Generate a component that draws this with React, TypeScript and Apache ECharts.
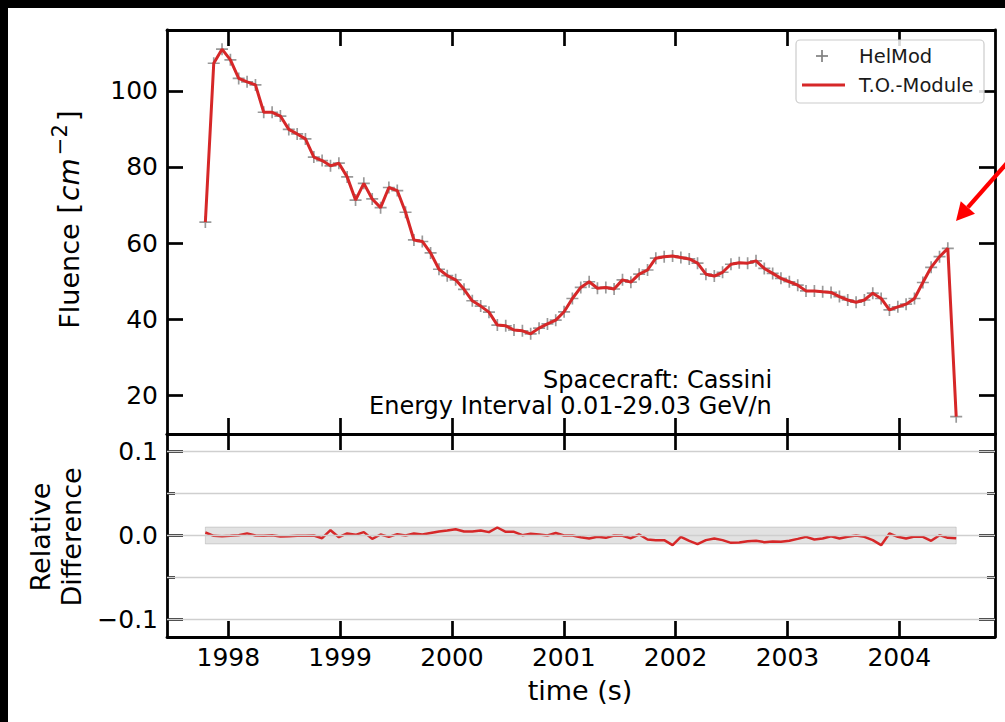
import React, { useEffect, useRef } from 'react';
import * as echarts from 'echarts';

// Sampling times (decimal years), one per solar rotation
const times = [
  1997.795, 1997.87, 1997.944, 1998.019, 1998.093, 1998.168, 1998.243, 1998.317, 1998.392, 1998.466,
  1998.541, 1998.616, 1998.69, 1998.765, 1998.839, 1998.914, 1998.989, 1999.063, 1999.138, 1999.212,
  1999.287, 1999.362, 1999.436, 1999.511, 1999.585, 1999.66, 1999.735, 1999.809, 1999.884, 1999.958,
  2000.033, 2000.108, 2000.182, 2000.257, 2000.331, 2000.406, 2000.481, 2000.555, 2000.63, 2000.704,
  2000.779, 2000.854, 2000.928, 2001.003, 2001.077, 2001.152, 2001.227, 2001.301, 2001.376, 2001.45,
  2001.525, 2001.6, 2001.674, 2001.749, 2001.823, 2001.898, 2001.973, 2002.047, 2002.122, 2002.196,
  2002.271, 2002.346, 2002.42, 2002.495, 2002.569, 2002.644, 2002.719, 2002.793, 2002.868, 2002.942,
  2003.017, 2003.092, 2003.166, 2003.241, 2003.315, 2003.39, 2003.465, 2003.539, 2003.614, 2003.688,
  2003.763, 2003.838, 2003.912, 2003.987, 2004.061, 2004.136, 2004.211, 2004.285, 2004.36, 2004.434,
  2004.509,
];

// Fluence [cm^-2] from HelMod
const helmodFluence = [
  65.5, 107.3, 111.0, 108.2, 103.3, 102.4, 101.6, 94.4, 94.4, 93.4,
  89.9, 88.7, 87.4, 82.6, 81.7, 80.3, 81.0, 77.4, 71.3, 75.7,
  71.6, 69.3, 74.6, 73.8, 68.1, 60.8, 60.4, 57.4, 53.1, 51.4,
  50.3, 47.8, 44.8, 43.4, 41.8, 38.4, 38.2, 37.1, 36.9, 36.1,
  37.6, 38.7, 39.7, 41.9, 45.4, 48.3, 49.8, 48.1, 48.3, 47.9,
  50.3, 49.7, 51.8, 52.9, 56.0, 56.4, 56.6, 56.2, 55.8, 54.7,
  51.8, 51.3, 52.3, 54.4, 54.8, 54.7, 55.3, 53.3, 52.0, 50.7,
  49.8, 48.9, 47.4, 47.4, 47.2, 47.0, 45.9, 45.0, 44.4, 45.0,
  46.8, 45.4, 42.4, 43.2, 43.9, 45.4, 49.6, 53.6, 56.4, 58.6,
  14.3,
];

// Fluence [cm^-2] from the T.O.-Module
const moduleFluence = [
  65.5, 107.3, 111.0, 108.2, 103.3, 102.4, 101.6, 94.4, 94.4, 93.4,
  89.9, 88.7, 87.4, 82.6, 81.7, 80.3, 81.0, 77.4, 71.3, 75.7,
  71.6, 69.3, 74.6, 73.8, 68.1, 60.8, 60.4, 57.4, 53.1, 51.4,
  50.3, 47.8, 44.8, 43.4, 41.8, 38.4, 38.2, 37.1, 36.9, 36.1,
  37.6, 38.7, 39.7, 41.9, 45.4, 48.3, 49.8, 48.1, 48.3, 47.9,
  50.3, 49.7, 51.8, 52.9, 56.0, 56.4, 56.6, 56.2, 55.8, 54.7,
  51.8, 51.3, 52.3, 54.4, 54.8, 54.7, 55.3, 53.3, 52.0, 50.7,
  49.8, 48.9, 47.4, 47.4, 47.2, 47.0, 45.9, 45.0, 44.4, 45.0,
  46.8, 45.4, 42.4, 43.2, 43.9, 45.4, 49.6, 53.6, 56.4, 58.6,
  14.3,
];

// Relative difference between the two models
const relativeDifference = [
  0.0036, -0.0004, -0.0008, -0.0004, 0.0004, 0.0025, 0.0, -0.0004, 0.0004, -0.0012,
  -0.0008, -0.0004, -0.0004, 0.0, -0.0032, 0.0063, -0.002, 0.0024, 0.0008, 0.004,
  -0.004, 0.0012, -0.0016, 0.0016, 0.0, 0.0024, 0.0012, 0.003, 0.0048, 0.006,
  0.0075, 0.0048, 0.0048, 0.006, 0.004, 0.0095, 0.0044, 0.0044, 0.0004, 0.002,
  0.0012, 0.0, 0.003, 0.0, 0.0, -0.002, -0.0036, -0.0016, -0.0028, 0.0,
  -0.0004, -0.0032, 0.0012, -0.0048, -0.0055, -0.0055, -0.0115, -0.0016, -0.0063, -0.0103,
  -0.0055, -0.0036, -0.0055, -0.0087, -0.0083, -0.0067, -0.0063, -0.0079, -0.0071, -0.0075,
  -0.0063, -0.004, -0.0016, -0.0048, -0.0036, -0.0008, -0.0036, -0.0016, 0.0, -0.0016,
  -0.0055, -0.0115, 0.0024, -0.0016, -0.0036, -0.0012, -0.0016, -0.0063, 0.0004, -0.0028,
  -0.0032,
];

const yearTicks = [1998, 1999, 2000, 2001, 2002, 2003, 2004];
const fluenceTicks = [20, 40, 60, 80, 100];
const diffTicks = [-0.1, 0, 0.1];
const diffMinorTicks = [-0.05, 0.05];
const diffGridLines = [-0.1, -0.05, 0, 0.05, 0.1];
const toleranceBand = 0.01;

const X_MIN = 1997.452;
const X_MAX = 2004.856;
const FLUENCE_MIN = 9.74;
const FLUENCE_MAX = 116.05;
const DIFF_MIN = -0.1205;
const DIFF_MAX = 0.1205;

const FONT = 'DejaVu Sans';
const RED = '#d62728';
const GRAY = '#808080';

const axisLineStyle = { show: true, onZero: false, lineStyle: { color: '#000', width: 2.8 } };
const tickStyle = (values: number[], length = 16) => ({
  show: true,
  inside: true,
  length,
  customValues: values,
  lineStyle: { color: '#000', width: 2.7 },
});

const xAxisFor = (gridIndex: number, position: 'top' | 'bottom', showLabels: boolean) => ({
  type: 'value',
  gridIndex,
  position,
  min: X_MIN,
  max: X_MAX,
  axisLine: axisLineStyle,
  axisTick: tickStyle(yearTicks),
  axisLabel: {
    show: showLabels,
    customValues: yearTicks,
    formatter: (v: number) => String(Math.round(v)),
    fontSize: 25,
    fontFamily: FONT,
    color: '#000',
    margin: 8,
  },
  splitLine: { show: false },
});

const diffLabel = (v: number) =>
  Math.abs(v) < 1e-9 ? '0.0' : (v < 0 ? '\u2212' : '') + Math.abs(v).toFixed(1);

const yAxisFor = (
  gridIndex: number,
  position: 'left' | 'right',
  min: number,
  max: number,
  ticks: number[],
  showLabels: boolean,
  formatter: (v: number) => string,
  tickLength = 16,
  showLine = true,
) => ({
  type: 'value',
  gridIndex,
  position,
  min,
  max,
  axisLine: showLine ? axisLineStyle : { show: false, onZero: false },
  axisTick: tickStyle(ticks, tickLength),
  axisLabel: {
    show: showLabels,
    customValues: ticks,
    formatter,
    fontSize: 25,
    fontFamily: FONT,
    color: '#000',
    margin: 9,
  },
  splitLine: { show: false },
});

const plusSymbol = 'path://M4.3,0H5.7V4.3H10V5.7H5.7V10H4.3V5.7H0V4.3H4.3Z';

// Arrow pointing at the last maximum, coming in from the right edge
const arrowTip = [948, 213];
const arrowStart = [1006, 147];
const arrowHead = (() => {
  const dx = arrowTip[0] - arrowStart[0];
  const dy = arrowTip[1] - arrowStart[1];
  const len = Math.hypot(dx, dy);
  const ux = dx / len;
  const uy = dy / len;
  const headLen = 18;
  const half = 9.5;
  const bx = arrowTip[0] - ux * headLen;
  const by = arrowTip[1] - uy * headLen;
  return {
    base: [bx, by],
    points: [
      arrowTip,
      [bx - uy * half, by + ux * half],
      [bx + uy * half, by - ux * half],
    ],
  };
})();

const option = {
  animation: false,
  backgroundColor: '#fff',
  textStyle: { fontFamily: FONT },
  grid: [
    { left: 159, top: 22, width: 828, height: 404 },
    { left: 159, top: 426, width: 828, height: 203 },
  ],
  xAxis: [
    xAxisFor(0, 'bottom', false),
    xAxisFor(0, 'top', false),
    xAxisFor(1, 'bottom', true),
    xAxisFor(1, 'top', false),
  ],
  yAxis: [
    yAxisFor(0, 'left', FLUENCE_MIN, FLUENCE_MAX, fluenceTicks, true, (v) => String(v)),
    yAxisFor(0, 'right', FLUENCE_MIN, FLUENCE_MAX, fluenceTicks, false, (v) => String(v)),
    yAxisFor(1, 'left', DIFF_MIN, DIFF_MAX, diffTicks, true, diffLabel),
    yAxisFor(1, 'right', DIFF_MIN, DIFF_MAX, diffTicks, false, diffLabel),
    yAxisFor(1, 'left', DIFF_MIN, DIFF_MAX, diffMinorTicks, false, diffLabel, 8, false),
    yAxisFor(1, 'right', DIFF_MIN, DIFF_MAX, diffMinorTicks, false, diffLabel, 8, false),
  ],
  series: [
    {
      name: 'HelMod',
      type: 'scatter',
      xAxisIndex: 0,
      yAxisIndex: 0,
      symbol: plusSymbol,
      symbolSize: 12,
      itemStyle: { color: GRAY },
      z: 2,
      data: times.map((t, i) => [t, helmodFluence[i]]),
    },
    {
      name: 'T.O.-Module',
      type: 'line',
      xAxisIndex: 0,
      yAxisIndex: 0,
      symbol: 'none',
      lineStyle: { color: RED, width: 3 },
      z: 3,
      data: times.map((t, i) => [t, moduleFluence[i]]),
    },
    {
      name: 'grid',
      type: 'line',
      xAxisIndex: 2,
      yAxisIndex: 2,
      data: [],
      z: 1,
      markLine: {
        silent: true,
        symbol: ['none', 'none'],
        label: { show: false },
        lineStyle: { color: '#cfcfcf', width: 1.3, type: 'solid' },
        data: diffGridLines.map((v) => ({ yAxis: v })),
      },
    },
    {
      name: 'Relative Difference',
      type: 'line',
      xAxisIndex: 2,
      yAxisIndex: 2,
      symbol: 'none',
      lineStyle: { color: RED, width: 2.5 },
      z: 3,
      data: times.map((t, i) => [t, relativeDifference[i]]),
      markArea: {
        silent: true,
        itemStyle: {
          color: 'rgba(150,150,150,0.28)',
          borderColor: 'rgba(150,150,150,0.35)',
          borderWidth: 1,
        },
        data: [
          [
            { xAxis: times[0], yAxis: -toleranceBand },
            { xAxis: times[times.length - 1], yAxis: toleranceBand },
          ],
        ],
      },
    },
  ],
  graphic: [
    // axis titles
    {
      type: 'text',
      x: 61,
      y: 211,
      rotation: Math.PI / 2,
      style: {
        text: '{n|Fluence }{b|[}{i|cm}{s|\u22122}{b|]}',
        align: 'center',
        verticalAlign: 'middle',
        rich: {
          n: { fontSize: 27, fontFamily: FONT, fill: '#000', lineHeight: 40, verticalAlign: 'middle' },
          b: { fontSize: 28, fontFamily: FONT, fill: '#000', lineHeight: 40, verticalAlign: 'middle', padding: [0, 1, 0, 1] },
          i: { fontSize: 28, fontFamily: FONT, fontStyle: 'italic', fill: '#000', lineHeight: 40, verticalAlign: 'middle', padding: [0, 1, 0, 1] },
          s: { fontSize: 21, fontFamily: FONT, fill: '#000', verticalAlign: 'top', lineHeight: 40, padding: [0, 2, 0, 2] },
        },
      },
    },
    {
      type: 'text',
      x: 48,
      y: 529,
      rotation: Math.PI / 2,
      style: {
        text: 'Relative\nDifference',
        align: 'center',
        verticalAlign: 'middle',
        fontSize: 27,
        lineHeight: 31,
        fontFamily: FONT,
        fill: '#000',
      },
    },
    {
      type: 'text',
      x: 572,
      y: 682,
      style: {
        text: 'time (s)',
        align: 'center',
        verticalAlign: 'middle',
        fontSize: 27,
        fontFamily: FONT,
        fill: '#000',
      },
    },
    // annotation
    {
      type: 'text',
      x: 535,
      y: 372,
      style: { text: 'Spacecraft: Cassini', align: 'left', verticalAlign: 'middle', fontSize: 24, fontFamily: FONT, fill: '#000' },
    },
    {
      type: 'text',
      x: 361,
      y: 398,
      style: { text: 'Energy Interval 0.01-29.03 GeV/n', align: 'left', verticalAlign: 'middle', fontSize: 24, fontFamily: FONT, fill: '#000' },
    },
    // legend
    {
      type: 'rect',
      shape: { x: 788, y: 32, width: 188, height: 63, r: 4 },
      style: { fill: 'rgba(255,255,255,0.85)', stroke: '#cccccc', lineWidth: 1.2 },
      z: 10,
    },
    {
      type: 'line',
      shape: { x1: 808, y1: 48, x2: 820, y2: 48 },
      style: { stroke: GRAY, lineWidth: 1.7 },
      z: 11,
    },
    {
      type: 'line',
      shape: { x1: 814, y1: 42, x2: 814, y2: 54 },
      style: { stroke: GRAY, lineWidth: 1.7 },
      z: 11,
    },
    {
      type: 'line',
      shape: { x1: 794, y1: 77, x2: 837, y2: 77 },
      style: { stroke: RED, lineWidth: 2.8 },
      z: 11,
    },
    {
      type: 'text',
      x: 851,
      y: 48,
      style: { text: 'HelMod', align: 'left', verticalAlign: 'middle', fontSize: 19.5, fontFamily: FONT, fill: '#1a1a1a' },
      z: 11,
    },
    {
      type: 'text',
      x: 851,
      y: 77,
      style: { text: 'T.O.-Module', align: 'left', verticalAlign: 'middle', fontSize: 19.5, fontFamily: FONT, fill: '#1a1a1a' },
      z: 11,
    },
    // arrow
    {
      type: 'line',
      shape: { x1: arrowStart[0], y1: arrowStart[1], x2: arrowHead.base[0], y2: arrowHead.base[1] },
      style: { stroke: '#ff0000', lineWidth: 4.2 },
      z: 12,
    },
    {
      type: 'polygon',
      shape: { points: arrowHead.points },
      style: { fill: '#ff0000' },
      z: 12,
    },
  ],
};

export default function App() {
  const ref = useRef<HTMLDivElement>(null);
  useEffect(() => {
    document.body.style.margin = '0';
    document.body.style.background = '#000';
    const chart = echarts.init(ref.current as HTMLDivElement, undefined, { renderer: 'svg' });
    chart.setOption(option as any);
    return () => chart.dispose();
  }, []);
  return (
    <div style={{ position: 'relative', width: 1005, height: 722, background: '#000', overflow: 'hidden' }}>
      <div ref={ref} style={{ position: 'absolute', left: 8, top: 8, width: 997, height: 714, background: '#fff' }} />
    </div>
  );
}
